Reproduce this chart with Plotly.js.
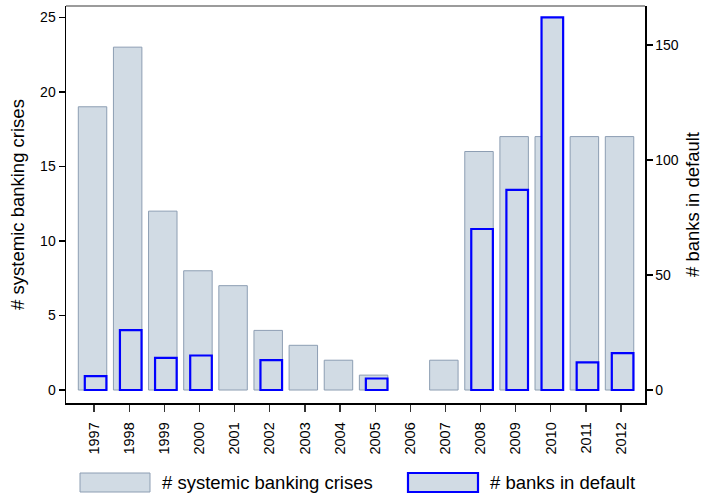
<!DOCTYPE html>
<html>
<head>
<meta charset="utf-8">
<script src="https://cdn.plot.ly/plotly-3.0.1.min.js"></script>
<style>html,body{margin:0;padding:0;background:#fff;}#chart{width:703px;height:497px;}</style>
</head>
<body>
<div id="chart"></div>
<script>
const years = ["1997","1998","1999","2000","2001","2002","2003","2004","2005","2006","2007","2008","2009","2010","2011","2012"];
const crises = [19, 23, 12, 8, 7, 4, 3, 2, 1, null, 2, 16, 17, 17, 17, 17];
const banksDefault = [6, 26, 14, 15, null, 13, null, null, 5, null, null, 70, 87, 162, 12, 16];
const leftTicks = [0, 5, 10, 15, 20, 25];
const rightTicks = [0, 50, 100, 150];
const seriesNames = ["# systemic banking crises", "# banks in default"];

const W = 703, H = 497;
const M = {l: 66, r: 58, t: 6, b: 94};
const pw = W - M.l - M.r, ph = H - M.t - M.b;
const px = x => (x - M.l) / pw;
const py = y => (H - M.b - y) / ph;

const fill = "#d1dbe4";
const greyLine = "#8d9eb3";
const blue = "#0000ff";
const font = "Liberation Sans, Arial, sans-serif";

const traces = [
  {
    type: "bar", x: years, y: crises, name: seriesNames[0],
    width: 0.81, offset: -0.45,
    marker: {color: fill, line: {color: greyLine, width: 1}},
    yaxis: "y", showlegend: false, hoverinfo: "skip"
  },
  {
    type: "bar", x: years, y: banksDefault, name: seriesNames[1],
    width: 0.615, offset: -0.265,
    marker: {color: fill, line: {color: blue, width: 2.2}},
    yaxis: "y2", showlegend: false, hoverinfo: "skip"
  }
];

const shapes = [
  {type: "line", xref: "paper", yref: "paper", x0: 0, x1: 1, y0: 1, y1: 1, line: {color: "#7a7a7a", width: 1.5}},
  {type: "rect", xref: "paper", yref: "paper", x0: px(80), x1: px(150), y0: py(473), y1: py(492), fillcolor: fill, line: {color: greyLine, width: 1}},
  {type: "rect", xref: "paper", yref: "paper", x0: px(408), x1: px(478), y0: py(473), y1: py(492), fillcolor: fill, line: {color: blue, width: 2.2}}
];

const annotations = [
  {xref: "paper", yref: "paper", x: px(160), y: py(482.5), xanchor: "left", yanchor: "middle", text: seriesNames[0], showarrow: false, font: {family: font, size: 18.5, color: "#000"}},
  {xref: "paper", yref: "paper", x: px(488), y: py(482.5), xanchor: "left", yanchor: "middle", text: seriesNames[1], showarrow: false, font: {family: font, size: 18.5, color: "#000"}}
];

const layout = {
  width: W, height: H,
  margin: M,
  paper_bgcolor: "#fff", plot_bgcolor: "#fff",
  barmode: "overlay",
  showlegend: false,
  font: {family: font, color: "#000"},
  xaxis: {
    type: "category", range: [-0.80, 15.68],
    tickangle: -90, ticks: "outside", ticklen: 7, tickcolor: "#333", tickwidth: 1.3,
    ticklabelstandoff: 5,
    showline: true, linecolor: "#000", linewidth: 1.5, showgrid: false, zeroline: false,
    tickfont: {family: font, size: 14.5, color: "#000"}
  },
  yaxis: {
    range: [-0.87, 25.76], tickvals: leftTicks, ticktext: leftTicks.map(String),
    ticks: "outside", ticklen: 6, tickcolor: "#000", tickwidth: 1.3,
    showline: true, linecolor: "#000", linewidth: 1.5, showgrid: false, zeroline: false,
    tickfont: {family: font, size: 14, color: "#000"},
    title: {text: seriesNames[0], font: {family: font, size: 18.5, color: "#000"}, standoff: 10}
  },
  yaxis2: {
    overlaying: "y", side: "right",
    range: [-5.65, 166.96], tickvals: rightTicks, ticktext: rightTicks.map(String),
    ticks: "outside", ticklen: 6, tickcolor: "#000", tickwidth: 1.3,
    showline: true, linecolor: "#000", linewidth: 1.5, showgrid: false, zeroline: false,
    tickfont: {family: font, size: 14, color: "#000"},
    title: {text: seriesNames[1], font: {family: font, size: 18.5, color: "#000"}, standoff: 12}
  },
  shapes: shapes,
  annotations: annotations
};

Plotly.newPlot("chart", traces, layout, {displayModeBar: false, staticPlot: true});
</script>
</body>
</html>
